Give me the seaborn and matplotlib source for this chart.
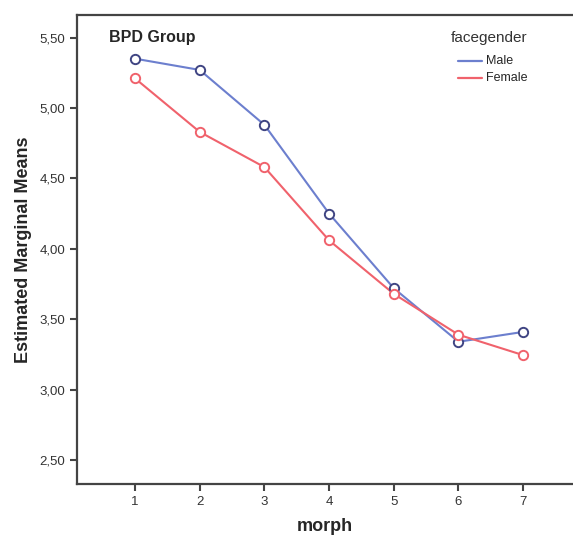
import matplotlib
matplotlib.use("Agg")
import matplotlib.pyplot as plt
import matplotlib.ticker as mticker
import seaborn as sns
import pandas as pd

morph = [1, 2, 3, 4, 5, 6, 7]
male_means = [5.35, 5.27, 4.88, 4.25, 3.72, 3.34, 3.41]
female_means = [5.21, 4.83, 4.58, 4.06, 3.68, 3.39, 3.245]
groups = ["Male", "Female"]

df = pd.DataFrame({
    "morph": morph * 2,
    "mean": male_means + female_means,
    "facegender": [groups[0]] * 7 + [groups[1]] * 7,
})

sns.set_style("white")
plt.rcParams['font.family'] = ['Liberation Sans', 'DejaVu Sans']

line_cols = {"Male": "#6c7fce", "Female": "#f0626c"}
edge_cols = {"Male": "#404583", "Female": "#f0626c"}

fig = plt.figure(figsize=(5.73, 5.36), dpi=100)
ax = fig.add_axes([0.134, 0.097, 0.866, 0.875])

sns.lineplot(data=df, x="morph", y="mean", hue="facegender", palette=line_cols,
             linewidth=1.5, ax=ax, legend=False)
for g in groups:
    sub = df[df["facegender"] == g]
    ax.scatter(sub["morph"], sub["mean"], s=45, facecolor="white",
               edgecolor=edge_cols[g], linewidth=1.4, zorder=3)

ax.set_xlim(0.1, 7.77)
ax.set_ylim(2.33, 5.66)
ax.set_xticks(morph)
ax.set_yticks([2.5, 3.0, 3.5, 4.0, 4.5, 5.0, 5.5])
ax.yaxis.set_major_formatter(mticker.FuncFormatter(lambda v, p: f"{v:.2f}".replace(".", ",")))
ax.tick_params(axis="both", which="major", length=5, width=1.5, color="#444444",
               labelsize=9.5, labelcolor="#333333", left=True, bottom=True, direction="out")

for s in ["left", "bottom", "top"]:
    ax.spines[s].set_color("#444444")
    ax.spines[s].set_linewidth(1.6)
ax.spines["right"].set_visible(False)

ax.set_xlabel("morph", fontsize=13, fontweight="bold", labelpad=7)
ax.set_ylabel("Estimated Marginal Means", fontsize=13, fontweight="bold", labelpad=5)

ax.text(0.6, 5.5, "BPD Group", fontsize=11.5, fontweight="bold", va="center", ha="left")
ax.text(6.47, 5.5, "facegender", fontsize=11, color="#333333", va="center", ha="center")
for i, g in enumerate(groups):
    y = 5.33 - i * 0.12
    ax.plot([5.99, 6.36], [y, y], color=line_cols[g], linewidth=1.6)
    ax.text(6.42, y, g, fontsize=9, va="center", ha="left")

fig.savefig("out.png", dpi=100)
